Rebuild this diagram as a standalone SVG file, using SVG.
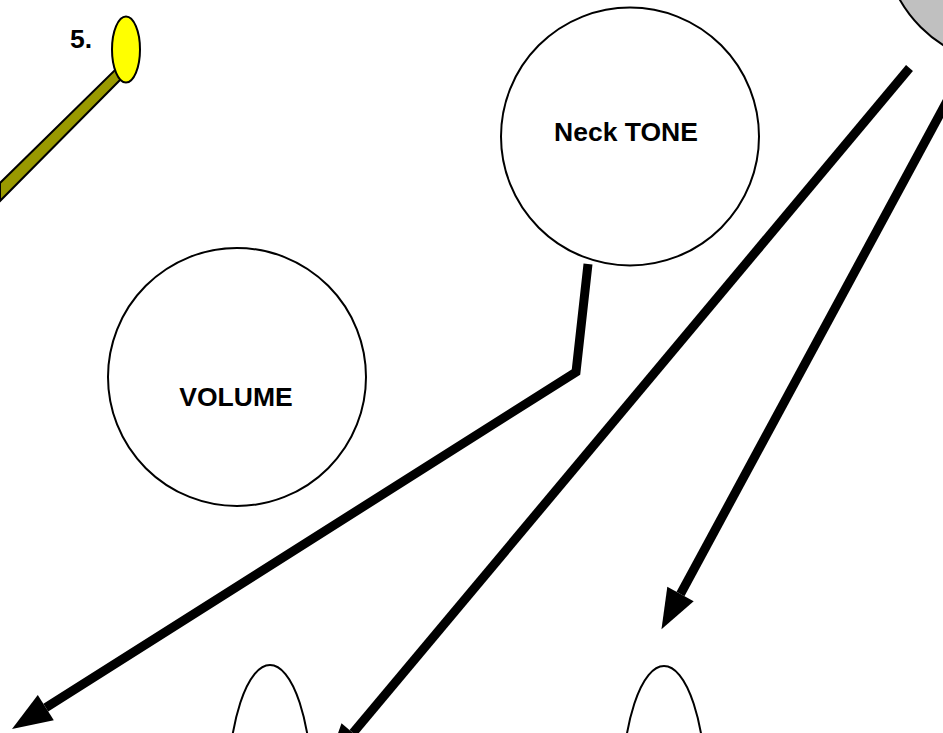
<svg xmlns="http://www.w3.org/2000/svg" width="943" height="733" viewBox="0 0 943 733">
<style>
.knob{fill:#ffffff;stroke:#000000;stroke-width:2}
.lbl{font-family:"Liberation Sans",Arial,sans-serif;font-weight:bold;font-size:26.5px;fill:#000000}
.wire{fill:none;stroke:#000000;stroke-width:9;stroke-linejoin:miter}
.pick{fill:#ffffff;stroke:#000000;stroke-width:2}
</style>
<defs>
<marker id="ah" markerUnits="userSpaceOnUse" viewBox="-1 -16 42 32" markerWidth="42" markerHeight="32" refX="0" refY="0" orient="auto">
<path d="M40,0 L0,-15 L0,15 Z" fill="#000000"/>
</marker>
</defs>
<rect x="0" y="0" width="943" height="733" fill="#ffffff"/>
<g id="switch">
<polygon points="115,70 123,77 0,201 0,183" fill="#999900" stroke="#000000" stroke-width="2"/>
<ellipse cx="126" cy="49.5" rx="14" ry="33" fill="#ffff00" stroke="#000000" stroke-width="2"/>
<text class="lbl" x="70" y="48">5.</text>
</g>
<g id="gray-knob">
<circle cx="1012" cy="-64" r="129" fill="#c0c0c0" stroke="#000000" stroke-width="2"/>
</g>
<g id="neck-tone">
<circle class="knob" cx="630" cy="136.5" r="129"/>
<text class="lbl" x="626" y="141" text-anchor="middle">Neck TONE</text>
</g>
<g id="volume">
<circle class="knob" cx="237" cy="377" r="129"/>
<text class="lbl" x="236" y="406" text-anchor="middle">VOLUME</text>
</g>
<g id="pickup-1">
<ellipse class="pick" cx="270" cy="794" rx="42" ry="129"/>
</g>
<g id="pickup-2">
<ellipse class="pick" cx="664" cy="795" rx="42" ry="129"/>
</g>
<g id="connectors">
<polyline class="wire" points="588,264 576,372 45.8,707.6" marker-end="url(#ah)"/>
<line class="wire" x1="909.5" y1="68" x2="353" y2="733" marker-end="url(#ah)"/>
<line class="wire" x1="953" y1="90" x2="680.5" y2="594" marker-end="url(#ah)"/>
</g>
</svg>
